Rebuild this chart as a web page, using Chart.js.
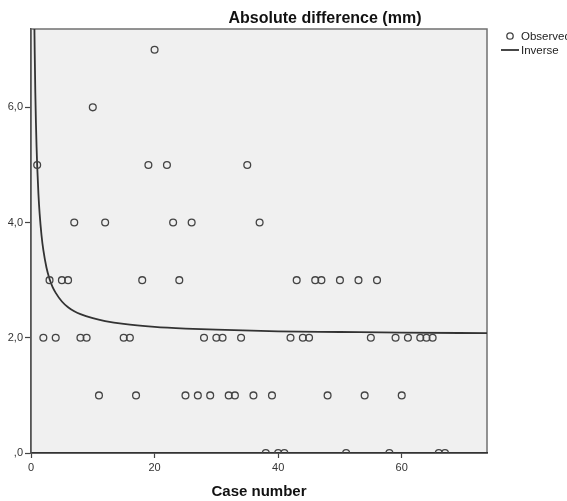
<!DOCTYPE html>
<html>
<head>
<title>Absolute difference (mm)</title>
<script src="https://cdn.jsdelivr.net/npm/chart.js"></script>
<style>
  html, body { margin: 0; padding: 0; background: #fff; }
  #wrap { width: 567px; height: 501px; }
</style>
</head>
<body>
<div id="wrap"><canvas id="chart" width="567" height="501"></canvas></div>
<script>
// observed values (case number -> absolute difference in mm)
const caseNumbers = [1, 2, 3, 4, 5, 6, 7, 8, 9, 10, 11, 12, 15, 16, 17, 18, 19, 20, 22, 23,
                     24, 25, 26, 27, 28, 29, 30, 31, 32, 33, 34, 35, 36, 37, 38, 39, 40, 41, 42, 43,
                     44, 45, 46, 47, 48, 50, 51, 53, 54, 55, 56, 58, 59, 60, 61, 63, 64, 65, 66, 67];
const absDiff     = [5, 2, 3, 2, 3, 3, 4, 2, 2, 6, 1, 4, 2, 2, 1, 3, 5, 7, 5, 4,
                     3, 1, 4, 1, 2, 1, 2, 2, 1, 1, 2, 5, 1, 4, 0, 1, 0, 0, 2, 3,
                     2, 2, 3, 3, 1, 3, 0, 3, 1, 2, 3, 0, 2, 1, 2, 2, 2, 2, 0, 0];

// fitted "Inverse" curve
const inverseX = [0.55, 0.6, 0.7, 0.8, 0.9, 1, 1.2, 1.4, 1.7, 2, 2.5, 3, 3.5, 4, 5, 6, 7, 8,
                  10, 12, 15, 20, 25, 30, 40, 50, 60, 74];
const inverseY = [7.40, 6.96, 6.25, 5.73, 5.32, 4.99, 4.50, 4.15, 3.78, 3.52, 3.22, 3.02, 2.88, 2.78,
                  2.63, 2.53, 2.46, 2.41, 2.34, 2.29, 2.24, 2.19, 2.16, 2.14, 2.11, 2.10, 2.09, 2.08];

const xTickLabels = ['0', '20', '40', '60'];
const yTickLabels = [',0', '2,0', '4,0', '6,0'];

const chartTitle = 'Absolute difference (mm)';
const legendLabels = ['Observed', 'Inverse'];

const fontFamily = "'Liberation Sans', Arial, sans-serif";

// grey plot background, frame, title and legend
const frame = {
    id: 'frame',
    beforeDraw(chart) {
        const { ctx, chartArea: a } = chart;
        ctx.save();
        ctx.fillStyle = '#f0f0f0';
        ctx.fillRect(a.left, a.top, a.right - a.left, a.bottom - a.top);
        ctx.strokeStyle = '#707070';
        ctx.lineWidth = 1.5;
        ctx.strokeRect(a.left, a.top, a.right - a.left, a.bottom - a.top);
        ctx.restore();
    },
    afterDraw(chart) {
        const ctx = chart.ctx;
        ctx.save();
        ctx.fillStyle = '#111';
        ctx.textAlign = 'center';
        ctx.textBaseline = 'middle';
        ctx.font = 'bold 16px ' + fontFamily;
        ctx.fillText(chartTitle, 325, 19);

        // legend
        ctx.font = '11.5px ' + fontFamily;
        ctx.textAlign = 'left';
        ctx.fillStyle = '#222';
        ctx.strokeStyle = '#444';
        ctx.lineWidth = 1.3;
        ctx.beginPath();
        ctx.arc(510, 36, 3.2, 0, Math.PI * 2);
        ctx.stroke();
        ctx.fillText(legendLabels[0], 521, 37);
        ctx.strokeStyle = '#333';
        ctx.lineWidth = 1.8;
        ctx.beginPath();
        ctx.moveTo(501, 50);
        ctx.lineTo(519, 50);
        ctx.stroke();
        ctx.fillText(legendLabels[1], 521, 51);
        ctx.restore();
    }
};

const observedPoints = caseNumbers.map((c, i) => ({ x: c, y: absDiff[i] }));
const inversePoints = inverseX.map((x, i) => ({ x: x, y: inverseY[i] }));

new Chart(document.getElementById('chart'), {
    type: 'scatter',
    data: {
        datasets: [
            {
                label: legendLabels[0],
                data: observedPoints,
                pointRadius: 3.4,
                pointBorderWidth: 1.3,
                pointBorderColor: '#444',
                pointBackgroundColor: 'rgba(0,0,0,0)',
                showLine: false
            },
            {
                label: legendLabels[1],
                data: inversePoints,
                showLine: true,
                pointRadius: 0,
                borderColor: '#333',
                borderWidth: 1.8,
                cubicInterpolationMode: 'monotone',
                fill: false
            }
        ]
    },
    options: {
        responsive: false,
        animation: false,
        layout: { padding: { top: 29, right: 80, bottom: 0, left: 0 } },
        plugins: {
            legend: { display: false },
            tooltip: { enabled: false }
        },
        scales: {
            x: {
                type: 'linear',
                position: 'bottom',
                min: 0,
                max: 73.8,
                afterFit: s => { s.height = 48; },
                ticks: {
                    stepSize: 20,
                    includeBounds: false,
                    padding: 3,
                    color: '#333',
                    font: { family: fontFamily, size: 11 },
                    callback: (v, i) => xTickLabels[i]
                },
                grid: { drawOnChartArea: false, drawTicks: true, tickLength: 5, color: '#444', tickWidth: 1.2 },
                border: { display: true, color: '#333', width: 1.5 },
                title: {
                    display: true,
                    text: 'Case number',
                    color: '#111',
                    font: { family: fontFamily, size: 15, weight: 'bold' },
                    padding: { top: 0, bottom: 0 }
                }
            },
            y: {
                type: 'linear',
                min: 0,
                max: 7.36,
                afterFit: s => { s.width = 31; },
                ticks: {
                    stepSize: 2,
                    includeBounds: false,
                    padding: 2,
                    color: '#333',
                    font: { family: fontFamily, size: 11 },
                    callback: (v, i) => yTickLabels[i]
                },
                grid: { drawOnChartArea: false, drawTicks: true, tickLength: 6, color: '#444', tickWidth: 1.2 },
                border: { display: true, color: '#555', width: 1.5 }
            }
        }
    },
    plugins: [frame]
});
</script>
</body>
</html>
